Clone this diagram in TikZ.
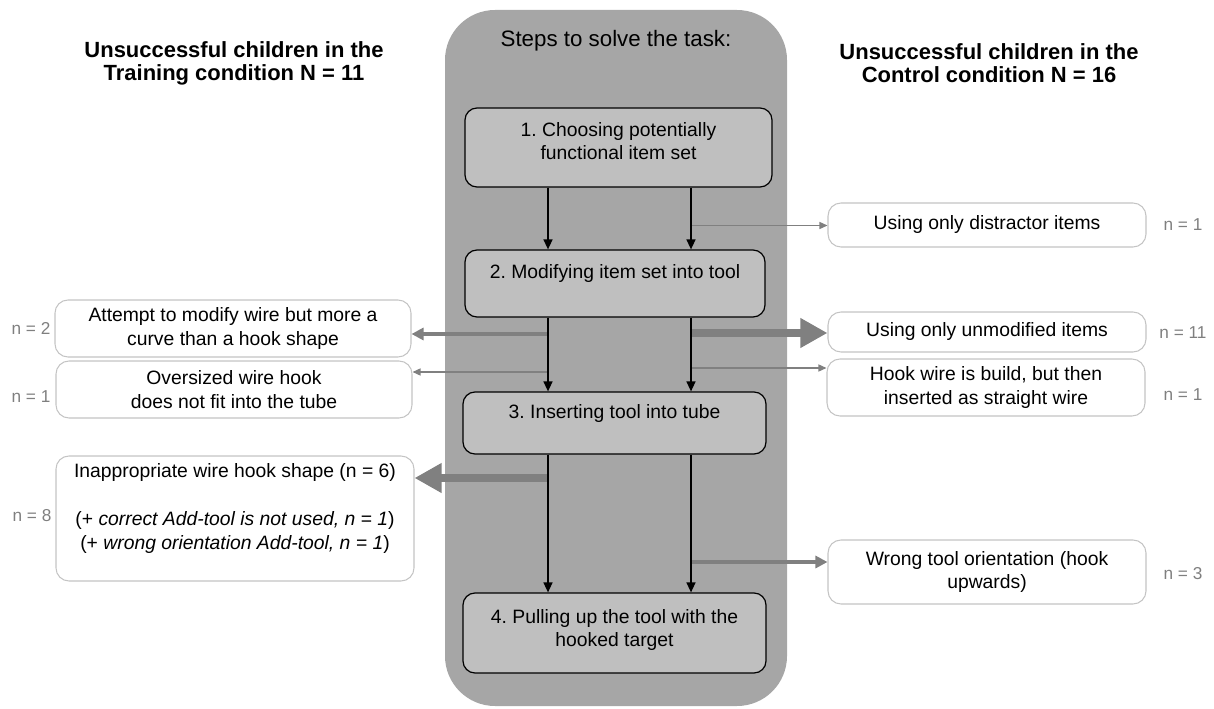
\documentclass[tikz,border=0pt]{standalone}
\usepackage{fontspec}
\setmainfont{Liberation Sans}
\usepackage{tikz}
\usetikzlibrary{arrows.meta,positioning,calc}
\frenchspacing
\definecolor{Panel}{HTML}{A6A6A6}
\definecolor{StepFill}{HTML}{BFBFBF}
\definecolor{Rule}{HTML}{C4C4C4}
\definecolor{Muted}{HTML}{808080}
\definecolor{Count}{HTML}{7F7F7F}
\tikzset{
  panel/.style={fill=Panel,rounded corners=1cm,inner sep=0pt},
  stepbox/.style={draw=black,fill=StepFill,rounded corners=.24cm,line width=.7pt,align=center,inner sep=.1cm,font=\fontsize{11}{13.2}\selectfont},
  fail/.style={draw=Rule,fill=white,rounded corners=.26cm,line width=.6pt,align=center,inner sep=.1cm,font=\fontsize{11}{13.6}\selectfont},
  count/.style={text=Count,font=\fontsize{9.8}{11}\selectfont},
  head/.style={align=center,font=\bfseries\fontsize{12.5}{13.2}\selectfont},
  flow/.style={-{Triangle[length=2mm,width=1.8mm]},draw=black,line width=.85pt},
  side/.style={-{Triangle[length=1.6mm,width=1.4mm]},draw=Muted,line width=.8pt},
  sidemid/.style={-{Triangle[length=2.4mm,width=2.4mm]},draw=Muted,line width=2.2pt},
  sidebig/.style={-{Triangle[length=5.4mm,width=5.6mm]},draw=Muted,line width=4.5pt}
}

\begin{document}
\begin{tikzpicture}
  \useasboundingbox (0,0) rectangle (24.28,-14.18);
  \node[panel,minimum width=6.84cm,minimum height=13.92cm] (bg) at (12.32,-7.16) {};
  \node[font=\fontsize{12.7}{14}\selectfont] (ttl) at (12.32,-0.82) {Steps to solve the task:};
  \node[head] (hl) at (4.68,-1.27) {Unsuccessful children in the\\Training condition N = 11};
  \node[head] (hr) at (19.78,-1.27) {Unsuccessful children in the\\Control condition N = 16};

  % steps
  \node[stepbox,minimum width=6.14cm,minimum height=1.58cm] (s1) at (12.37,-2.95) {1. Choosing potentially\\functional item set\\[-.2cm]~};
  \node[stepbox,minimum width=6.0cm,minimum height=1.34cm] (s2) at (12.30,-5.67) {2. Modifying item set into tool\\~};
  \node[stepbox,minimum width=6.06cm,minimum height=1.24cm] (s3) at (12.29,-8.46) {3. Inserting tool into tube\\~};
  \node[stepbox,minimum width=6.06cm,minimum height=1.6cm] (s4) at (12.29,-12.66) {4. Pulling up the tool with the\\hooked target\\[-.25cm]~};

  % failures, training
  \node[fail,minimum width=7.12cm,minimum height=1.14cm] (l1) at (4.66,-6.57) {Attempt to modify wire but more a\\curve than a hook shape};
  \node[fail,minimum width=7.12cm,minimum height=1.14cm] (l2) at (4.68,-7.79) {Oversized wire hook\\does not fit into the tube};
  \node[fail,minimum width=7.16cm,minimum height=2.5cm] (l3) at (4.70,-10.37) {Inappropriate wire hook shape (n = 6)\\~\\(+ \textit{correct Add-tool is not used, n = 1})\\(+ \textit{wrong orientation Add-tool, n = 1})\\~};
  \node[count] (n1) at (0.62,-6.56) {n = 2};
  \node[count] (n2) at (0.62,-7.94) {n = 1};
  \node[count] (n3) at (0.64,-10.32) {n = 8};

  % failures, control
  \node[fail,minimum width=6.36cm,minimum height=.88cm] (r1) at (19.74,-4.50) {Using only distractor items};
  \node[fail,minimum width=6.36cm,minimum height=.80cm] (r2) at (19.74,-6.64) {Using only unmodified items};
  \node[fail,minimum width=6.36cm,minimum height=1.14cm] (r3) at (19.72,-7.75) {Hook wire is build, but then\\inserted as straight wire};
  \node[fail,minimum width=6.36cm,minimum height=1.28cm] (r4) at (19.74,-11.44) {Wrong tool orientation (hook\\upwards)};
  \node[count] (m1) at (23.66,-4.50) {n = 1};
  \node[count] (m2) at (23.66,-6.66) {n = 11};
  \node[count] (m3) at (23.66,-7.90) {n = 1};
  \node[count] (m4) at (23.66,-11.47) {n = 3};

  % branch points on the two paths
  \coordinate (xl) at (10.96,0);
  \coordinate (xr) at (13.82,0);
  \coordinate (k1) at (13.82,-4.51);
  \coordinate (k2) at (13.82,-6.66);
  \coordinate (k3) at (13.82,-7.36);
  \coordinate (k4) at (13.82,-11.24);
  \coordinate (j1) at (10.96,-6.68);
  \coordinate (j2) at (10.96,-7.44);
  \coordinate (j3) at (10.96,-9.56);

  \draw[side] (k1) -- (k1 -| r1.west);
  \draw[sidebig] (k2) -- (k2 -| r2.west);
  \draw[side] (k3) -- (k3 -| r3.west);
  \draw[sidemid] (k4) -- (k4 -| r4.west);
  \draw[sidemid] (j1) -- (j1 -| l1.east);
  \draw[side] (j2) -- (j2 -| l2.east);
  \draw[sidebig] (j3) -- (j3 -| l3.east);

  \draw[flow] (s1.south -| xl) -- (s2.north -| xl);
  \draw[flow] (s1.south -| xr) -- (s2.north -| xr);
  \draw[flow] (s2.south -| xl) -- (s3.north -| xl);
  \draw[flow] (s2.south -| xr) -- (s3.north -| xr);
  \draw[flow] (s3.south -| xl) -- (s4.north -| xl);
  \draw[flow] (s3.south -| xr) -- (s4.north -| xr);
\end{tikzpicture}
\end{document}
